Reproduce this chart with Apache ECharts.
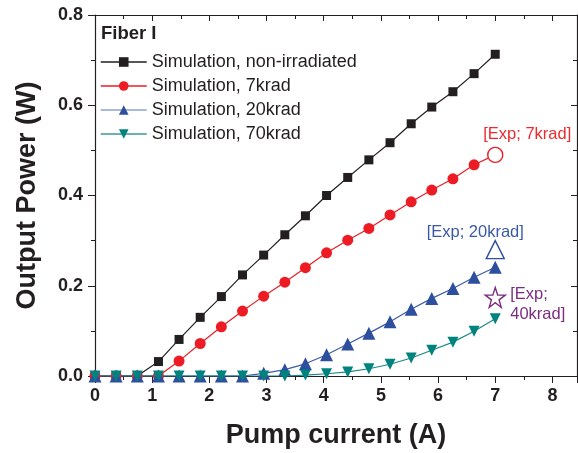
<!DOCTYPE html>
<html><head><meta charset="utf-8">
<script src="https://cdn.jsdelivr.net/npm/echarts@6/dist/echarts.min.js"></script>
<style>html,body{margin:0;padding:0;background:#fff}#c{width:578px;height:453px}</style>
</head><body><div id="c"></div>
<script>
const pumpCurrent = [0,0.37,0.74,1.11,1.47,1.84,2.21,2.58,2.95,3.32,3.68,4.05,4.42,4.79,5.16,5.53,5.89,6.26,6.63,7.0];
const simNonIrr = [0,0,0,0.032,0.081,0.130,0.176,0.224,0.268,0.313,0.355,0.400,0.440,0.479,0.517,0.559,0.596,0.630,0.670,0.713];
const sim7krad  = [0,0,0,0,0.033,0.072,0.109,0.144,0.177,0.208,0.240,0.273,0.301,0.327,0.357,0.386,0.412,0.437,0.468,0.490];
const sim20krad = [0,0,0,0,0,0,0,0,0.006,0.014,0.027,0.047,0.071,0.095,0.120,0.148,0.172,0.194,0.219,0.241];
const sim70krad = [0,0,0,0,0,0,0,0,0,0,0.002,0.005,0.009,0.016,0.026,0.040,0.057,0.075,0.099,0.127];
const seriesNames = ['Simulation, non-irradiated','Simulation, 7krad','Simulation, 20krad','Simulation, 70krad'];
const expX = [7.0, 7.0, 7.0];
const expY = [0.490, 0.280, 0.174];
const expLabels = ['[Exp; 7krad]', '[Exp; 20krad]', '[Exp;\n40krad]'];
const xTicks = [0,1,2,3,4,5,6,7,8];
const yTicks = [0.0,0.2,0.4,0.6,0.8];

const FONT = '"Liberation Sans", Arial, sans-serif';
const colors = ['#231f20','#ed1c24','#2d4f9e','#00837f'];
const lineColors = ['#231f20','#ed1c24','#3d5ca8','#1a8a86'];
const legendLineColors = ['#231f20','#ed1c24','#8ea3cf','#3a9a96'];
const symbols = ['rect','circle','triangle','path://M0,0 L10,0 L5,9 Z'];
const sizes = [9,11,13,11];
const simData = [simNonIrr, sim7krad, sim20krad, sim70krad];
const starPath = 'path://M50,0 L61.8,35.1 L98.8,35.1 L68.8,56.8 L79.4,91.9 L50,70.2 L20.6,91.9 L31.2,56.8 L1.2,35.1 L38.2,35.1 Z';
const expSymbols = ['circle','triangle',starPath];
const expSizes = [15,18,20];
const expColors = ['#ed1c24','#2d4f9e','#7b2d7f'];
const expLabelColors = ['#ee2a2e','#3a5aa8','#7b2d7f'];
const expOffsets = [[32,-20],[-20,-17],[15,7]];
const expAlign = ['center','center','left'];

const series = simData.map((d,i)=>({
  name: seriesNames[i], type:'line', data: pumpCurrent.map((x,j)=>[x,d[j]]),
  symbol: symbols[i], symbolSize: sizes[i], showAllSymbol:true,
  itemStyle:{color:colors[i], opacity:1}, lineStyle:{color:lineColors[i], width:1.2},
  z: 2+i, animation:false
}));
expX.forEach((x,i)=>{
  series.push({
    type:'scatter', data:[[x,expY[i]]], symbol: expSymbols[i], symbolSize: expSizes[i],
    itemStyle:{color:'#fff', borderColor: expColors[i], borderWidth:1.4, opacity:1}, z:10, animation:false,
    label:{show:true, position:'inside', offset: expOffsets[i], align: expAlign[i],
      formatter: expLabels[i], color: expLabelColors[i], fontFamily: FONT, fontSize: 16.5, lineHeight: 20}
  });
});

const axisCommon = {
  axisLine:{show:true, onZero:false, lineStyle:{color:'#231f20', width:1.2}},
  splitLine:{show:false}
};

const chart = echarts.init(document.getElementById('c'), null, {renderer:'canvas'});
chart.setOption({
  backgroundColor:'#fff',
  animation:false,
  grid:{left:95, top:15, right:1, bottom:77, show:false, containLabel:false, outerBoundsMode:'none'},
  legend:{
    orient:'vertical', left:95, top:48, itemGap:6, itemWidth:46, itemHeight:12,
    textStyle:{fontFamily:FONT, fontSize:18, color:'#231f20'},
    data: seriesNames.map((n,i)=>({name:n, itemStyle:{color:colors[i]}, lineStyle:{color:legendLineColors[i], width:1.5}}))
  },
  graphic:[{type:'text', left:101, top:24, style:{text:'Fiber I', font:'bold 18.5px '+FONT, fill:'#231f20'}}],
  xAxis:[Object.assign({
    type:'value', min:0, max:8.43, interval:1,
    name:'Pump current (A)', nameLocation:'middle', nameGap:46,
    nameTextStyle:{fontFamily:FONT, fontSize:27, fontWeight:'bold', color:'#231f20'},
    axisTick:{show:true, inside:false, length:7, lineStyle:{color:'#231f20'}},
    minorTick:{show:true, splitNumber:2, length:4, lineStyle:{color:'#231f20'}},
    axisLabel:{fontFamily:FONT, fontSize:18, fontWeight:'bold', color:'#231f20', margin:11,
      formatter:v=> xTicks.includes(v)? String(v):''}
  }, axisCommon), Object.assign({
    type:'value', position:'top', min:0, max:8.43, interval:1,
    axisTick:{show:true, inside:true, length:6, lineStyle:{color:'#231f20'}},
    minorTick:{show:true, splitNumber:2, length:4, lineStyle:{color:'#231f20'}},
    axisLabel:{show:false}
  }, axisCommon)],
  yAxis:[Object.assign({
    type:'value', min:0, max:0.8, interval:0.2,
    name:'Output Power (W)', nameLocation:'middle', nameGap:54,
    nameTextStyle:{fontFamily:FONT, fontSize:27, fontWeight:'bold', color:'#231f20'},
    axisTick:{show:true, inside:false, length:7, lineStyle:{color:'#231f20'}},
    minorTick:{show:true, splitNumber:2, length:4, lineStyle:{color:'#231f20'}},
    axisLabel:{fontFamily:FONT, fontSize:18, fontWeight:'bold', color:'#231f20', margin:12,
      formatter:v=> yTicks.some(t=>Math.abs(t-v)<1e-9) ? v.toFixed(1) : ''}
  }, axisCommon), Object.assign({
    type:'value', position:'right', min:0, max:0.8, interval:0.2,
    axisTick:{show:true, inside:true, length:6, lineStyle:{color:'#231f20'}},
    minorTick:{show:true, splitNumber:2, length:4, lineStyle:{color:'#231f20'}},
    axisLabel:{show:false}
  }, axisCommon)],
  series: series
});
</script></body></html>
